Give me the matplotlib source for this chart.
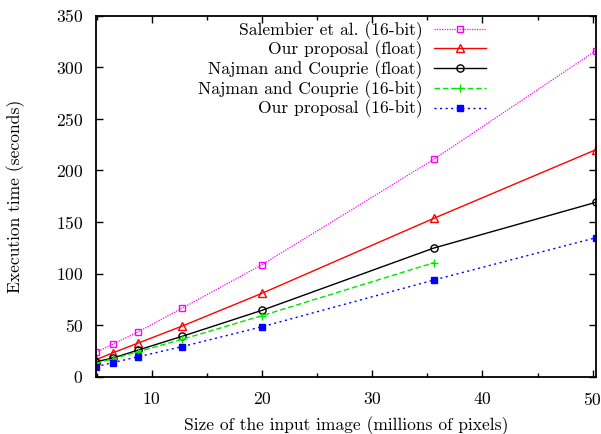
import matplotlib
matplotlib.use("Agg")
import matplotlib.pyplot as plt
from matplotlib.ticker import MultipleLocator

plt.rcParams['font.family'] = ['cmr10', 'DejaVu Sans']
plt.rcParams['axes.formatter.use_mathtext'] = True
plt.rcParams['mathtext.fontset'] = 'cm'

sizes = [4.95, 6.45, 8.8, 12.75, 20.0, 35.6, 50.3]
salembier16 = [23.6, 31.4, 43.6, 66.3, 108.5, 210.7, 316.0]
ours_float = [16.5, 23.0, 32.7, 49.0, 80.8, 153.5, 220.0]
najman_float = [14.5, 18.0, 25.9, 39.1, 64.3, 124.7, 169.0]
najman16 = [13.0, 17.3, 24.3, 36.2, 59.1, 110.5]
ours16 = [9.7, 13.6, 19.4, 29.1, 48.4, 93.7, 134.7]

labels = ["Salembier et al. (16-bit)", "Our proposal (float)",
          "Najman and Couprie (float)", "Najman and Couprie (16-bit)",
          "Our proposal (16-bit)"]

W, H = 601, 434
fig = plt.figure(figsize=(W / 100, H / 100), dpi=100)
ax_l, ax_r, ax_t, ax_b = 95.8, 596.0, 15.5, 376.7
ax = fig.add_axes([ax_l / W, 1 - ax_b / H, (ax_r - ax_l) / W, (ax_b - ax_t) / H])

fs = 12.6
ax.plot(sizes, salembier16, color='#ff00ff', lw=0.9, ls=(0, (1, 1)),
        marker='s', mfc='none', mec='#ff00ff', ms=4.8, mew=1.0, label=labels[0])
ax.plot(sizes, ours_float, color='#ff0000', lw=1.0, ls='-',
        marker='^', mfc='none', mec='#ff0000', ms=5.2, mew=1.0, label=labels[1])
ax.plot(sizes, najman_float, color='black', lw=1.0, ls='-',
        marker='o', mfc='none', mec='black', ms=5.2, mew=1.0, label=labels[2])
ax.plot(sizes[:len(najman16)], najman16, color='#00e600', lw=1.0, ls=(0, (4, 2)),
        marker='+', mec='#00e600', ms=6, mew=1.0, label=labels[3])
ax.plot(sizes, ours16, color='#0000ff', lw=1.0, ls=(0, (1.5, 2.5)),
        marker='s', mfc='#0000ff', mec='#0000ff', ms=4.8, label=labels[4])

ax.set_xlim(sizes[0] - 0.02, sizes[-1])
ax.set_ylim(0, 350)
ax.xaxis.set_major_locator(MultipleLocator(10))
ax.xaxis.set_minor_locator(MultipleLocator(5))
ax.yaxis.set_major_locator(MultipleLocator(50))
ax.tick_params(which='both', direction='in', top=True, right=True,
               labelsize=fs, width=1.0)
ax.tick_params(which='major', length=5)
ax.tick_params(which='minor', length=3)
ax.tick_params(axis='x', pad=10)
ax.tick_params(axis='y', pad=9)
for sp in ax.spines.values():
    sp.set_linewidth(1.3)

ax.set_xlabel("Size of the input image (millions of pixels)", fontsize=fs)
ax.xaxis.set_label_coords(0.5, (ax_b - 416.5) / (ax_b - ax_t))
ax.set_ylabel("Execution time (seconds)", fontsize=fs)
ax.yaxis.label.set_va('center')
ax.yaxis.set_label_coords((15.5 - ax_l) / (ax_r - ax_l), 0.5)

leg = ax.legend(loc='upper right', bbox_to_anchor=(486 / W, 1 - 21 / H),
                bbox_transform=fig.transFigure, frameon=False, markerfirst=False,
                fontsize=fs, handlelength=2.95, handletextpad=0.68,
                labelspacing=0.06, borderpad=0, borderaxespad=0)

fig.savefig("out.png", dpi=100)
